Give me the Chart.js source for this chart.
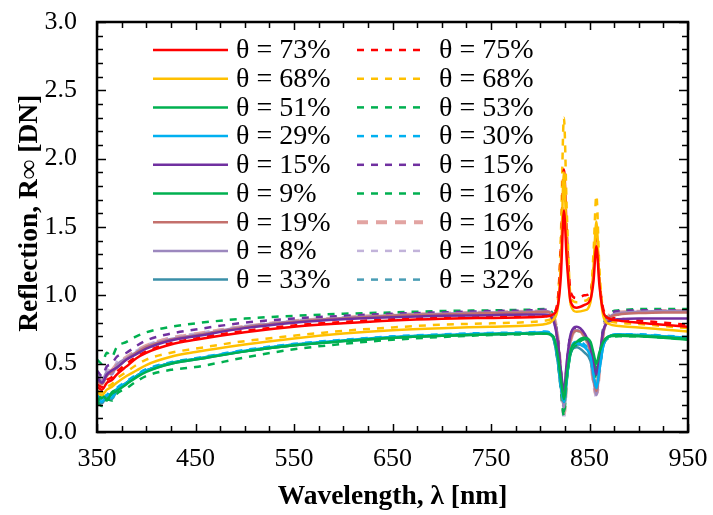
<!DOCTYPE html>
<html>
<head>
<meta charset="utf-8">
<script src="https://cdn.jsdelivr.net/npm/chart.js@4.4.1/dist/chart.umd.min.js"></script>
<style>
html, body { margin: 0; padding: 0; background: #fff; }
#caixa { width: 713px; height: 515px; }
</style>
</head>
<body>
<div id="caixa"><canvas id="grafico" width="713" height="515"></canvas></div>
<script>
// wavelength [nm]
let lambda = [350, 355, 360, 365, 370, 380, 390, 400, 425, 450, 500, 550, 600, 650, 700, 750, 790, 805,
              813, 818, 821, 824, 827, 831, 837, 845, 851, 854, 857, 860, 864, 870, 880, 900, 925, 950];

// solid lines
let s73 = [0.33,0.31,0.36,0.38,0.42,0.48,0.54,0.58,0.64,0.675,0.73,0.77,0.795,0.815,0.828,0.835,0.84,0.845,0.86,0.93,1.15,1.62,1.25,0.95,0.91,0.93,0.97,1.10,1.36,1.08,0.88,0.83,0.815,0.80,0.785,0.77];
let s68 = [0.29,0.27,0.31,0.33,0.36,0.41,0.45,0.49,0.55,0.585,0.64,0.685,0.72,0.745,0.76,0.77,0.78,0.79,0.82,0.92,1.25,1.90,1.35,0.93,0.88,0.89,0.95,1.20,1.54,1.12,0.85,0.79,0.775,0.765,0.75,0.735];
let s51 = [0.21,0.27,0.24,0.28,0.30,0.35,0.40,0.44,0.50,0.53,0.59,0.635,0.665,0.69,0.705,0.715,0.72,0.72,0.70,0.55,0.38,0.24,0.42,0.60,0.66,0.69,0.66,0.58,0.50,0.58,0.66,0.70,0.71,0.705,0.695,0.68];
let s29 = [0.26,0.22,0.27,0.25,0.31,0.36,0.41,0.45,0.505,0.535,0.595,0.64,0.67,0.695,0.71,0.72,0.725,0.73,0.70,0.52,0.33,0.22,0.40,0.60,0.65,0.62,0.55,0.42,0.32,0.45,0.63,0.70,0.715,0.71,0.70,0.69];
let s15 = [0.40,0.36,0.42,0.45,0.47,0.53,0.57,0.61,0.67,0.70,0.76,0.80,0.825,0.84,0.85,0.855,0.86,0.86,0.82,0.65,0.45,0.30,0.52,0.72,0.77,0.72,0.62,0.50,0.42,0.55,0.74,0.81,0.825,0.83,0.83,0.83];
let s9  = [0.20,0.25,0.23,0.29,0.31,0.36,0.41,0.45,0.505,0.535,0.59,0.635,0.665,0.69,0.705,0.715,0.72,0.72,0.70,0.54,0.36,0.22,0.40,0.58,0.64,0.68,0.64,0.55,0.45,0.55,0.65,0.70,0.705,0.70,0.69,0.675];
let s19 = [0.38,0.35,0.41,0.44,0.47,0.53,0.58,0.62,0.675,0.705,0.765,0.805,0.83,0.85,0.86,0.87,0.875,0.88,0.84,0.66,0.42,0.22,0.46,0.68,0.74,0.70,0.58,0.40,0.30,0.48,0.72,0.83,0.86,0.87,0.875,0.875];
let s8  = [0.42,0.37,0.44,0.42,0.49,0.54,0.585,0.625,0.68,0.71,0.77,0.81,0.835,0.855,0.865,0.875,0.88,0.885,0.85,0.65,0.40,0.18,0.45,0.69,0.745,0.70,0.57,0.38,0.27,0.46,0.73,0.84,0.87,0.88,0.885,0.885];
let s33 = [0.24,0.21,0.26,0.24,0.30,0.355,0.405,0.445,0.50,0.53,0.59,0.635,0.665,0.69,0.705,0.715,0.72,0.725,0.69,0.50,0.32,0.25,0.42,0.58,0.62,0.58,0.52,0.40,0.33,0.46,0.63,0.70,0.71,0.705,0.695,0.685];

// dashed lines
let d75 = [0.35,0.33,0.38,0.40,0.44,0.50,0.55,0.59,0.65,0.685,0.74,0.78,0.805,0.825,0.835,0.84,0.845,0.85,0.87,0.98,1.35,1.92,1.45,1.02,0.98,1.00,1.02,1.18,1.45,1.12,0.90,0.845,0.83,0.815,0.80,0.785];
let d68 = [0.30,0.29,0.33,0.35,0.39,0.44,0.49,0.53,0.58,0.61,0.665,0.705,0.74,0.765,0.785,0.795,0.805,0.815,0.84,0.98,1.45,2.30,1.60,0.98,0.95,0.96,1.00,1.30,1.73,1.20,0.88,0.815,0.80,0.79,0.775,0.76];
let d53 = [0.22,0.19,0.24,0.23,0.28,0.32,0.37,0.41,0.455,0.475,0.545,0.605,0.645,0.675,0.695,0.71,0.715,0.72,0.69,0.50,0.30,0.12,0.38,0.58,0.64,0.68,0.63,0.52,0.40,0.52,0.64,0.69,0.70,0.70,0.69,0.68];
let d30 = [0.27,0.24,0.28,0.27,0.32,0.37,0.42,0.46,0.51,0.54,0.60,0.645,0.675,0.70,0.715,0.725,0.73,0.735,0.70,0.52,0.33,0.20,0.40,0.60,0.66,0.64,0.57,0.44,0.30,0.45,0.64,0.70,0.715,0.715,0.705,0.695];
let d15 = [0.45,0.41,0.48,0.50,0.55,0.58,0.63,0.67,0.72,0.75,0.80,0.83,0.85,0.865,0.875,0.885,0.89,0.895,0.86,0.68,0.44,0.24,0.50,0.72,0.76,0.71,0.60,0.42,0.32,0.50,0.76,0.86,0.885,0.89,0.89,0.89];
let d16g = [0.53,0.50,0.58,0.55,0.62,0.66,0.70,0.73,0.77,0.795,0.83,0.85,0.865,0.875,0.885,0.89,0.895,0.90,0.86,0.66,0.40,0.15,0.46,0.70,0.74,0.70,0.58,0.40,0.30,0.48,0.76,0.87,0.89,0.90,0.90,0.90];
let d16r = [0.40,0.37,0.43,0.45,0.49,0.545,0.59,0.63,0.685,0.715,0.77,0.81,0.835,0.855,0.865,0.875,0.88,0.885,0.85,0.66,0.40,0.14,0.44,0.68,0.74,0.70,0.57,0.38,0.28,0.46,0.73,0.85,0.875,0.88,0.885,0.885];
let d10 = [0.44,0.40,0.46,0.44,0.51,0.55,0.595,0.635,0.69,0.72,0.775,0.815,0.84,0.86,0.87,0.88,0.885,0.89,0.85,0.64,0.36,0.09,0.42,0.68,0.745,0.70,0.56,0.36,0.25,0.45,0.73,0.85,0.88,0.885,0.89,0.89];
let d32 = [0.25,0.22,0.27,0.25,0.31,0.36,0.41,0.45,0.505,0.535,0.595,0.64,0.67,0.695,0.71,0.72,0.725,0.73,0.70,0.51,0.32,0.18,0.41,0.59,0.64,0.62,0.55,0.42,0.30,0.45,0.64,0.70,0.71,0.71,0.70,0.69];

let nomesCheios  = ["θ = 73%", "θ = 68%", "θ = 51%", "θ = 29%", "θ = 15%", "θ = 9%", "θ = 19%", "θ = 8%", "θ = 33%"];
let nomesTracos  = ["θ = 75%", "θ = 68%", "θ = 53%", "θ = 30%", "θ = 15%", "θ = 16%", "θ = 16%", "θ = 10%", "θ = 32%"];
let seriesCheias = [s73, s68, s51, s29, s15, s9, s19, s8, s33];
let seriesTracos = [d75, d68, d53, d30, d15, d16g, d16r, d10, d32];
let coresCheias  = ['#FF0000', '#FFC000', '#00B050', '#00B0F0', '#7030A0', '#00B050', '#C4706C', '#9C88BE', '#3A8FA8'];
let coresTracos  = ['#FF0000', '#FFC000', '#00B050', '#00B0F0', '#7030A0', '#00B050', '#E2A4A2', '#C2B3DA', '#4A9DB5'];

let xTicks = [350, 950, 100, 25];   // min, max, step, minor
let yTicks = [0, 3, 0.5, 0.1];

const fonte = '"Liberation Serif", Tinos, "DejaVu Serif", "Noto Serif", serif';

function pontos(serie){
    return serie.map((v, i) => ({x: lambda[i], y: v}));
}

let datasets = [];
seriesCheias.forEach((serie, i) => {
    datasets.push({
        label: nomesCheios[i],
        data: pontos(serie),
        borderColor: coresCheias[i],
        borderWidth: 2.5,
        borderDash: [],
        pointRadius: 0,
        cubicInterpolationMode: 'monotone'
    });
});
seriesTracos.forEach((serie, i) => {
    let grosso = (i == 6);
    datasets.push({
        label: nomesTracos[i],
        data: pontos(serie),
        borderColor: coresTracos[i],
        borderWidth: grosso ? 4 : 2.5,
        borderDash: grosso ? [11, 8] : [7, 7],
        pointRadius: 0,
        cubicInterpolationMode: 'monotone'
    });
});

// frame with inward ticks on all four sides
const moldura = {
    id: 'moldura',
    afterDatasetsDraw(chart){
        let ctx = chart.ctx;
        let a = chart.chartArea;
        let x = chart.scales.x, y = chart.scales.y;
        ctx.save();
        ctx.strokeStyle = '#000';
        ctx.lineWidth = 1.5;
        ctx.beginPath();
        for(let v = xTicks[0]; v <= xTicks[1] + 0.001; v += xTicks[3]){
            let px = Math.round(x.getPixelForValue(v)) + 0.5;
            let len = ((v - xTicks[0]) % xTicks[2] == 0) ? 8 : 6;
            ctx.moveTo(px, a.bottom); ctx.lineTo(px, a.bottom - len);
            ctx.moveTo(px, a.top); ctx.lineTo(px, a.top + len);
        }
        for(let k = 0; k <= Math.round((yTicks[1] - yTicks[0]) / yTicks[3]); k++){
            let v = yTicks[0] + k * yTicks[3];
            let py = Math.round(y.getPixelForValue(v)) + 0.5;
            let len = (k % 5 == 0) ? 9 : 6;
            ctx.moveTo(a.left, py); ctx.lineTo(a.left + len, py);
            ctx.moveTo(a.right, py); ctx.lineTo(a.right - len, py);
        }
        ctx.stroke();
        ctx.lineWidth = 2.5;
        ctx.strokeRect(a.left, a.top, a.right - a.left, a.bottom - a.top);
        ctx.restore();
    }
};

// two-column legend inside the plot
const legenda = {
    id: 'legenda',
    afterDraw(chart){
        let ctx = chart.ctx;
        let ds = chart.data.datasets;
        let colunas = [{linha: 153, fim: 228, texto: 236}, {linha: 357, fim: 423, texto: 439}];
        ctx.save();
        ctx.font = '28px ' + fonte;
        ctx.textBaseline = 'middle';
        ctx.fillStyle = '#000';
        for(let i = 0; i < 9; i++){
            let yy = 50 + i * 28.7;
            [ds[i], ds[i + 9]].forEach((d, c) => {
                let col = colunas[c];
                ctx.strokeStyle = d.borderColor;
                ctx.lineWidth = d.borderWidth;
                ctx.setLineDash(d.borderDash);
                ctx.beginPath();
                ctx.moveTo(col.linha, yy);
                ctx.lineTo(col.fim, yy);
                ctx.stroke();
                ctx.setLineDash([]);
                ctx.fillText(d.label, col.texto, yy + 1);
            });
        }
        ctx.restore();
    }
};

function desenhar(){
    let ctx = document.getElementById('grafico').getContext('2d');
    new Chart(ctx, {
        type: 'line',
        data: { datasets: datasets },
        options: {
            responsive: false,
            animation: false,
            layout: { padding: { left: 0, top: 22, right: 25, bottom: 0 } },
            plugins: { legend: { display: false }, tooltip: { enabled: false } },
            scales: {
                x: {
                    type: 'linear',
                    min: xTicks[0], max: xTicks[1],
                    grid: { display: false, drawTicks: false },
                    border: { display: false },
                    ticks: { stepSize: xTicks[2], color: '#000', font: { family: fonte, size: 26 }, padding: 12, maxRotation: 0 },
                    title: { display: true, text: 'Wavelength, λ [nm]', color: '#000', font: { family: fonte, size: 27.5, weight: 'bold' }, padding: { top: 0, bottom: 2 } },
                    afterFit(scale){ scale.height = 83; scale.paddingLeft = 0; scale.paddingRight = 0; }
                },
                y: {
                    min: yTicks[0], max: yTicks[1],
                    grid: { display: false, drawTicks: false },
                    border: { display: false },
                    ticks: { stepSize: yTicks[2], color: '#000', font: { family: fonte, size: 26 }, padding: 20, callback: v => v.toFixed(1) },
                    title: { display: true, text: '    Reflection, R∞ [DN]', color: '#000', font: { family: fonte, size: 27.5, weight: 'bold' }, padding: { top: 13, bottom: 0 } },
                    afterFit(scale){ scale.width = 97; scale.paddingTop = 0; scale.paddingBottom = 0; }
                }
            }
        },
        plugins: [moldura, legenda]
    });
}

Promise.all([
    document.fonts.load('26px "Liberation Serif"'),
    document.fonts.load('bold 26px "Liberation Serif"')
]).then(desenhar, desenhar);
</script>
</body>
</html>
